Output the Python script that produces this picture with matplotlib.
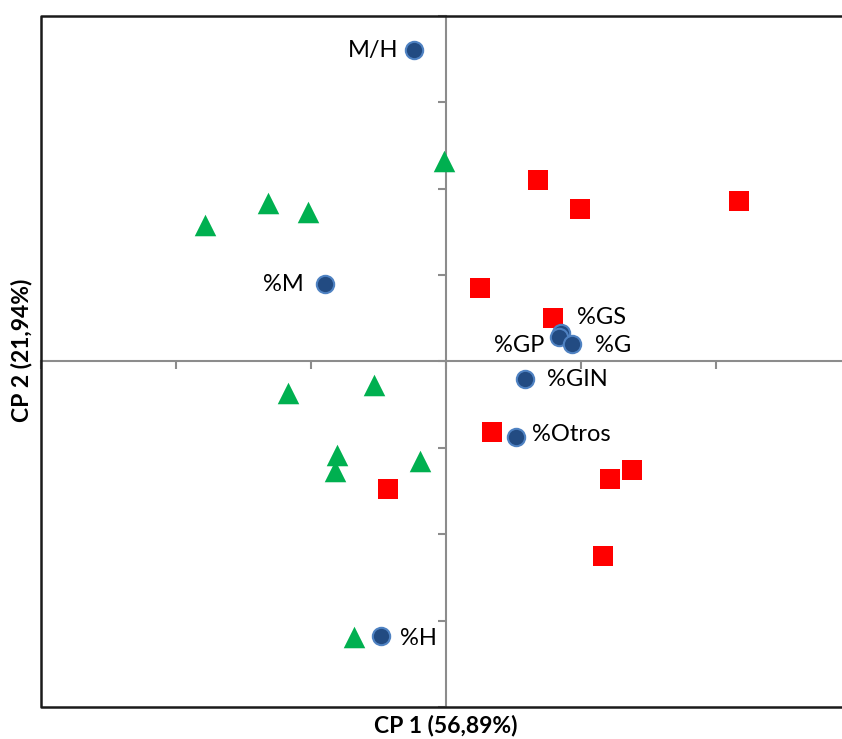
import matplotlib
matplotlib.use("Agg")
import matplotlib.pyplot as plt
import numpy as np

# ---- data ----
var_labels = ["M/H", "%M", "%GS", "%GP", "%G", "%GIN", "%Otros", "%H"]
var_x = [-0.118, -0.449, 0.426, 0.419, 0.467, 0.294, 0.261, -0.239]
var_y = [1.799, 0.447, 0.165, 0.142, 0.101, -0.101, -0.436, -1.591]

sq_x = [0.342, 0.496, 1.085, 0.125, 0.397, 0.169, -0.213, 0.607, 0.688, 0.581]
sq_y = [1.048, 0.880, 0.927, 0.424, 0.251, -0.407, -0.736, -0.678, -0.626, -1.129]

tri_x = [-0.008, -0.659, -0.512, -0.893, -0.265, -0.585, -0.405, -0.412, -0.096, -0.339]
tri_y = [1.157, 0.915, 0.863, 0.788, -0.136, -0.182, -0.540, -0.632, -0.574, -1.596]

x_ticks = [-1.5, -1.0, -0.5, 0.0, 0.5, 1.0, 1.5]
y_ticks = [-2.0, -1.5, -1.0, -0.5, 0.0, 0.5, 1.0, 1.5, 2.0]
x_title = "CP 1 (56,89%)"
y_title = "CP 2 (21,94%)"

# label placement (pixel offsets, alignment)
label_pos = {
    "M/H": (-16, 0, "right"),
    "%M": (-21, 0, "right"),
    "%GS": (16, -15, "left"),
    "%GP": (-15, 9, "right"),
    "%G": (23, 2, "left"),
    "%GIN": (22, 1, "left"),
    "%Otros": (16, -2, "left"),
    "%H": (19, 2, "left"),
}

plt.rcParams['font.family'] = ['Lato', 'DejaVu Sans']

W, H = 842, 739
fig = plt.figure(figsize=(W / 100, H / 100), dpi=100)
left_px, top_px, bot_px, zero_px = 41, 15.7, 707, 446
ax = fig.add_axes([left_px / W, (H - bot_px) / H,
                   2 * (zero_px - left_px) / W, (bot_px - top_px) / H])
ax.set_xlim(-1.5, 1.5)
ax.set_ylim(-2, 2)

# zero axes as spines
grey = "#8c8c8c"
for s in ["left", "bottom"]:
    ax.spines[s].set_position(("data", 0))
    ax.spines[s].set_color(grey)
    ax.spines[s].set_linewidth(1.5)
    ax.spines[s].set_zorder(1)
for s in ["top", "right"]:
    ax.spines[s].set_visible(False)
ax.set_xticks(x_ticks)
ax.set_yticks(y_ticks)
ax.tick_params(axis="both", direction="out", length=6, width=1.5, color=grey,
               labelleft=False, labelbottom=False)

# outer frame (left, top, bottom)
ax.plot([1, 0, 0, 1], [1, 1, 0, 0], transform=ax.transAxes, color="#1a1a1a",
        lw=1.8, clip_on=False, zorder=5)

ax.scatter(tri_x, tri_y, marker="^", s=15.5 ** 2, color="#00B050",
           linewidths=0, zorder=3)
ax.scatter(sq_x, sq_y, marker="s", s=14.4 ** 2, color="#FF0000",
           linewidths=0, zorder=3)
ax.scatter(var_x, var_y, marker="o", s=12.5 ** 2, facecolor="#224B82",
           edgecolor="#4F82C2", linewidths=1.5, zorder=4)

for lab, x, y in zip(var_labels, var_x, var_y):
    dx, dy, ha = label_pos[lab]
    ax.annotate(lab, (x, y), xytext=(dx, -dy), textcoords="offset pixels",
                ha=ha, va="center", fontsize=17, color="black", zorder=6)

fig.text((left_px + (zero_px - left_px)) / W, 1 - 726 / H, x_title,
         ha="center", va="center", fontsize=16.5, fontweight="bold")
fig.text(22 / W, 1 - 350 / H, y_title, ha="center", va="center",
         rotation=90, fontsize=16.5, fontweight="bold")

fig.savefig("out.png", dpi=100)
